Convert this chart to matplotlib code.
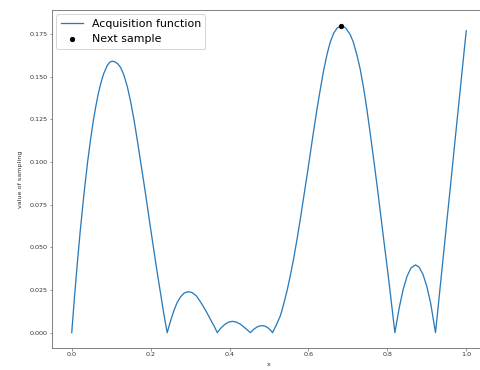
import matplotlib
matplotlib.use("Agg")
import matplotlib.pyplot as plt

# Acquisition function values
x_vals = [0.000, 0.007, 0.014, 0.022, 0.031, 0.040, 0.048, 0.055, 0.061, 0.067, 0.073, 0.081,
          0.090, 0.097, 0.103, 0.110, 0.117, 0.124, 0.132, 0.141, 0.149, 0.158, 0.166, 0.175,
          0.184, 0.192, 0.200, 0.208, 0.216, 0.225, 0.233, 0.242,
          0.250, 0.259, 0.267, 0.276, 0.285, 0.295, 0.305, 0.316, 0.327, 0.340, 0.352, 0.360, 0.369,
          0.378, 0.388, 0.397, 0.407, 0.417, 0.427, 0.437, 0.445, 0.453,
          0.461, 0.469, 0.476, 0.483, 0.490, 0.497, 0.503, 0.509,
          0.518, 0.529, 0.537, 0.546, 0.555, 0.563, 0.572, 0.580, 0.588, 0.597, 0.605, 0.613,
          0.622, 0.630, 0.638, 0.647, 0.655, 0.664, 0.673, 0.683, 0.694, 0.706, 0.714, 0.723,
          0.731, 0.740, 0.748, 0.757, 0.765, 0.774, 0.782, 0.791, 0.800, 0.808, 0.819,
          0.830, 0.840, 0.850, 0.860, 0.871, 0.880, 0.890, 0.900, 0.910, 0.922,
          0.930, 0.938, 0.945, 0.951, 0.958, 0.964, 0.970, 0.976, 0.983, 0.989, 0.995, 1.000]
y_vals = [0.0000, 0.0208, 0.0402, 0.0606, 0.0812, 0.0995, 0.1136, 0.1245, 0.1325, 0.1396, 0.1455, 0.1517,
          0.1565, 0.1585, 0.1590, 0.1586, 0.1574, 0.1553, 0.1510, 0.1440, 0.1357, 0.1245, 0.1130, 0.0995,
          0.0860, 0.0735, 0.0608, 0.0485, 0.0362, 0.0232, 0.0115, 0.0000,
          0.0065, 0.0130, 0.0175, 0.0210, 0.0232, 0.0240, 0.0235, 0.0215, 0.0178, 0.0128, 0.0076, 0.0042, 0.0000,
          0.0027, 0.0048, 0.0061, 0.0066, 0.0062, 0.0050, 0.0032, 0.0016, 0.0000,
          0.0019, 0.0032, 0.0039, 0.0041, 0.0038, 0.0029, 0.0017, 0.0000,
          0.0042, 0.0100, 0.0165, 0.0248, 0.0345, 0.0440, 0.0560, 0.0675, 0.0795, 0.0930, 0.1055, 0.1180,
          0.1315, 0.1425, 0.1530, 0.1630, 0.1700, 0.1755, 0.1785, 0.1797, 0.1786, 0.1745, 0.1700, 0.1625,
          0.1545, 0.1430, 0.1310, 0.1160, 0.1020, 0.0860, 0.0710, 0.0540, 0.0375, 0.0220, 0.0000,
          0.0145, 0.0253, 0.0331, 0.0379, 0.0397, 0.0385, 0.0343, 0.0271, 0.0169, 0.0000,
          0.0180, 0.0362, 0.0520, 0.0658, 0.0815, 0.0952, 0.1090, 0.1228, 0.1385, 0.1522, 0.1658, 0.1768]

next_x = [0.683]
next_y = [0.1797]

x_ticks = [0.0, 0.2, 0.4, 0.6, 0.8, 1.0]
y_ticks = [0.000, 0.025, 0.050, 0.075, 0.100, 0.125, 0.150, 0.175]

fig = plt.figure(figsize=(480 / 72, 370 / 72), dpi=72)
ax = fig.add_axes([52 / 480, 22 / 370, 434 / 480, 338 / 370])

ax.plot(x_vals, y_vals, color="#2b7bba", lw=1.3, label="Acquisition function")
ax.scatter(next_x, next_y, color="black", s=18, zorder=3, label="Next sample")

ax.set_xlim(-0.05, 1.05)
ax.set_ylim(-0.009, 0.189)
ax.set_xticks(x_ticks)
ax.set_yticks(y_ticks)
ax.set_xticklabels([f"{t:.1f}" for t in x_ticks])
ax.set_yticklabels([f"{t:.3f}" for t in y_ticks])
ax.tick_params(labelsize=6.4, length=2.5, width=0.6, color="#555555", labelcolor="#333333", pad=2)
for s in ax.spines.values():
    s.set_color("#777777")
    s.set_linewidth(0.9)

ax.set_ylabel("value of sampling", fontsize=6.4, color="#333333", labelpad=6)
ax.set_xlabel("x", fontsize=6.4, color="#333333", labelpad=4)

ax.legend(loc="upper left", fontsize=11, handlelength=2.0, borderaxespad=0.4,
          frameon=True, edgecolor="#cccccc", framealpha=0.8, scatterpoints=1)

fig.savefig("out.png", dpi=72)
